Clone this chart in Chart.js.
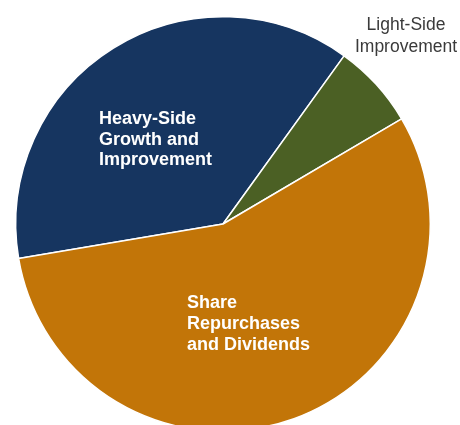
<!DOCTYPE html>
<html>
<head>
<meta charset="utf-8">
<script src="https://cdn.jsdelivr.net/npm/chart.js@4/dist/chart.umd.min.js"></script>
<style>
  html, body { margin: 0; padding: 0; background: #fff; overflow: hidden; width: 460px; height: 425px; }
  #wrap { position: relative; width: 460px; height: 450px; }
</style>
</head>
<body>
<div id="wrap"><canvas id="pie"></canvas></div>
<script>
  // slice data (percent of total)
  const categories = ['Heavy-Side Growth and Improvement', 'Light-Side Improvement', 'Share Repurchases and Dividends'];
  const shares = [37.6, 6.6, 55.8];
  const sliceColors = ['#163560', '#4b6024', '#c27508'];

  // label lines, drawn relative to the pie centre
  const labels = [
    { lines: ['Heavy-Side', 'Growth and', 'Improvement'], dx: -124, dy: -100, align: 'left', color: '#ffffff', font: 'bold 18px "Liberation Sans", Arial, sans-serif', lh: 20.5 },
    { lines: ['Light-Side', 'Improvement'], dx: 183, dy: -194, align: 'center', color: '#3a3a3a', font: '17.5px "Liberation Sans", Arial, sans-serif', lh: 22 },
    { lines: ['Share', 'Repurchases', 'and Dividends'], dx: -36, dy: 84, align: 'left', color: '#ffffff', font: 'bold 18px "Liberation Sans", Arial, sans-serif', lh: 21 },
  ];

  const labelPlugin = {
    id: 'sliceLabels',
    afterDraw(chart) {
      const arc = chart.getDatasetMeta(0).data[0];
      if (!arc) return;
      const ctx = chart.ctx;
      ctx.save();
      ctx.textBaseline = 'alphabetic';
      labels.forEach(l => {
        ctx.font = l.font;
        ctx.fillStyle = l.color;
        ctx.textAlign = l.align;
        l.lines.forEach((t, i) => ctx.fillText(t, arc.x + l.dx, arc.y + l.dy + i * l.lh));
      });
      ctx.restore();
    }
  };

  new Chart(document.getElementById('pie'), {
    type: 'pie',
    data: {
      labels: categories,
      datasets: [{
        data: shares,
        backgroundColor: sliceColors,
        borderColor: '#ffffff',
        borderWidth: 1.5,
      }]
    },
    options: {
      responsive: true,
      maintainAspectRatio: false,
      animation: false,
      rotation: -99.6,
      layout: { padding: { left: 15, right: 29, top: 16, bottom: 18 } },
      plugins: { legend: { display: false }, tooltip: { enabled: false } },
    },
    plugins: [labelPlugin]
  });
</script>
</body>
</html>
